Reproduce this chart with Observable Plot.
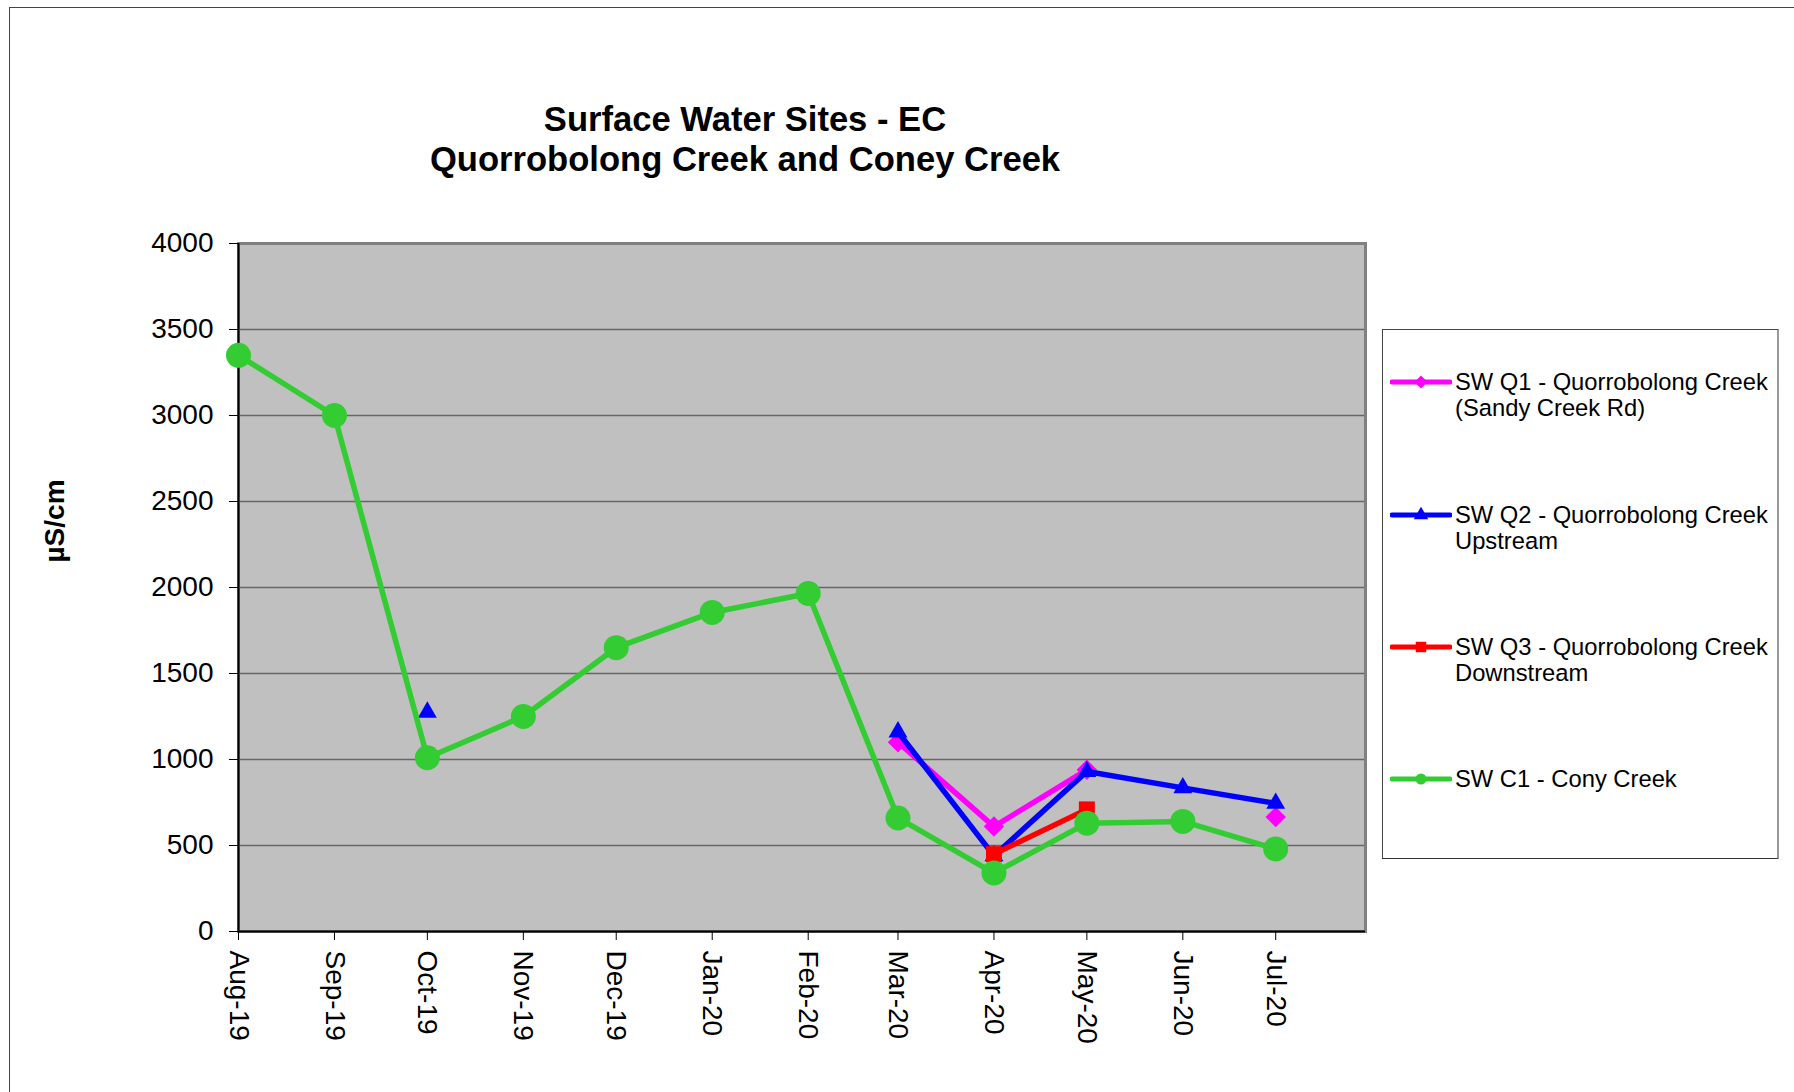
<!DOCTYPE html>
<html>
<head>
<meta charset="utf-8">
<script src="https://cdn.jsdelivr.net/npm/d3@7"></script>
<script src="https://cdn.jsdelivr.net/npm/@observablehq/plot@0.6"></script>
<style>
  html, body { margin: 0; padding: 0; background: #fff; }
  #wrap { position: relative; width: 1794px; height: 1092px; overflow: hidden; background: #fff; font-family: "Liberation Sans", Arial, sans-serif; color: #000; }
  #wrap svg.plot { position: absolute; left: 0; top: 0; }
  .frame-l { position: absolute; left: 9px; top: 7px; width: 0; height: 1100px; border-left: 1.5px solid #444; }
  .frame-t { position: absolute; left: 9px; top: 7px; width: 1800px; height: 0; border-top: 1.5px solid #444; }
  .title { position: absolute; left: 0; width: 1490px; top: 99px; text-align: center; font-weight: bold; font-size: 34.6px; line-height: 40px; }
  .ylabel { position: absolute; left: 55px; top: 521px; transform: translate(-50%, -50%) rotate(-90deg); font-weight: bold; font-size: 28px; white-space: nowrap; }
  .legend { position: absolute; left: 1382px; top: 329px; width: 397px; height: 530px; border-left: 1.5px solid #444; border-top: 1.5px solid #444; border-bottom: 1.5px solid #333; border-right: 2px solid #999; box-sizing: border-box; background: #fff; }
  .entry { position: absolute; left: 1390px; }
  .entry svg { position: absolute; left: 0; top: 3px; }
  .entry .txt { position: absolute; left: 65px; top: 0; font-size: 23.75px; line-height: 26px; white-space: nowrap; }
</style>
</head>
<body>
<div id="wrap">
  <div class="frame-l"></div>
  <div class="frame-t"></div>
  <div class="title">Surface Water Sites - EC<br>Quorrobolong Creek and Coney Creek</div>
  <div class="ylabel">µS/cm</div>
  <div class="legend"></div>
</div>
<script>
// ---- data ----
const months = ["2019-08-01","2019-09-01","2019-10-01","2019-11-01","2019-12-01","2020-01-01",
                "2020-02-01","2020-03-01","2020-04-01","2020-05-01","2020-06-01","2020-07-01"];
const monthLabels = ["Aug-19","Sep-19","Oct-19","Nov-19","Dec-19","Jan-20",
                     "Feb-20","Mar-20","Apr-20","May-20","Jun-20","Jul-20"];
const q1Values = [null,null,null,null,null,null,null,1100,610,940,null,665];
const q2Values = [null,null,1275,null,null,null,null,1160,440,930,835,745];
const q3Values = [null,null,null,null,null,null,null,null,450,710,null,null];
const c1Values = [3350,3000,1010,1250,1650,1855,1965,660,340,630,640,480];
const yTicks = [0,500,1000,1500,2000,2500,3000,3500,4000];
const seriesNames = ["SW Q1 - Quorrobolong Creek\n(Sandy Creek Rd)",
                     "SW Q2 - Quorrobolong Creek\nUpstream",
                     "SW Q3 - Quorrobolong Creek\nDownstream",
                     "SW C1 - Cony Creek"];

const dates = months.map(m => new Date(m + "T00:00:00Z"));
const series = [
  {name: seriesNames[0], values: q1Values, color: "#ff00ff", symbol: "diamond2", r: 9.2},
  {name: seriesNames[1], values: q2Values, color: "#0000ff", symbol: "triangle", r: 7},
  {name: seriesNames[2], values: q3Values, color: "#ff0000", symbol: "square", r: 9},
  {name: seriesNames[3], values: c1Values, color: "#33cc33", symbol: "circle", r: 12.5}
];
const tables = series.map(s => dates.map((d, i) => ({date: d, value: s.values[i]})));

const xDomain = [new Date("2019-08-01T00:00:00Z"), new Date("2020-07-30T00:00:00Z")];

const marks = [
  Plot.frame({fill: "#c0c0c0", stroke: null}),
  Plot.ruleY(yTicks.filter(v => v > 0 && v < 4000), {stroke: "#666", strokeWidth: 1.6}),
  Plot.frame({stroke: "#808080", strokeWidth: 3}),
  Plot.axisY({ticks: yTicks, tickSize: 9, tickPadding: 16, label: null, fontSize: 28, tickFormat: d => String(d)}),
  Plot.axisX({ticks: dates, tickSize: 9, tickPadding: 10, tickRotate: 90, label: null, fontSize: 28,
              tickFormat: d => monthLabels[dates.findIndex(m => +m === +d)]}),
  Plot.ruleX([xDomain[0]], {stroke: "#000", strokeWidth: 2}),
  Plot.ruleY([0], {stroke: "#000", strokeWidth: 2})
];
series.forEach((s, k) => {
  marks.push(Plot.line(tables[k], {x: "date", y: "value", stroke: s.color, strokeWidth: 5.5}));
  marks.push(Plot.dot(tables[k].filter(d => d.value != null), {x: "date", y: "value", fill: s.color, stroke: null, symbol: s.symbol, r: s.r}));
});

const chart = Plot.plot({
  width: 1794,
  height: 1092,
  marginLeft: 238,
  marginRight: 429,
  marginTop: 243,
  marginBottom: 161,
  x: {type: "utc", domain: xDomain},
  y: {domain: [0, 4000]},
  style: {fontFamily: "'Liberation Sans', Arial, sans-serif", fontSize: "28px", color: "#000", background: "transparent", overflow: "visible"},
  marks
});
chart.classList.add("plot");
const wrap = document.getElementById("wrap");
wrap.insertBefore(chart, wrap.querySelector(".frame-l"));

// ---- legend entries ----
const entryCenters = [382, 515, 647, 779];
series.forEach((s, k) => {
  const div = document.createElement("div");
  div.className = "entry";
  div.style.top = (entryCenters[k] - 13) + "px";
  const sym = d3.symbol().type({
    diamond2: d3.symbolDiamond2, triangle: d3.symbolTriangle, square: d3.symbolSquare, circle: d3.symbolCircle
  }[s.symbol]).size(s.symbol === "circle" ? 95 : s.symbol === "triangle" ? 90 : 110)();
  div.innerHTML = `<svg width="62" height="20"><line x1="2" x2="60" y1="10" y2="10" stroke="${s.color}" stroke-width="5" stroke-linecap="round"/>` +
    `<path transform="translate(31,10)" d="${sym}" fill="${s.color}"/></svg>` +
    `<div class="txt">${s.name.replace("\n", "<br>")}</div>`;
  wrap.appendChild(div);
});
</script>
</body>
</html>
